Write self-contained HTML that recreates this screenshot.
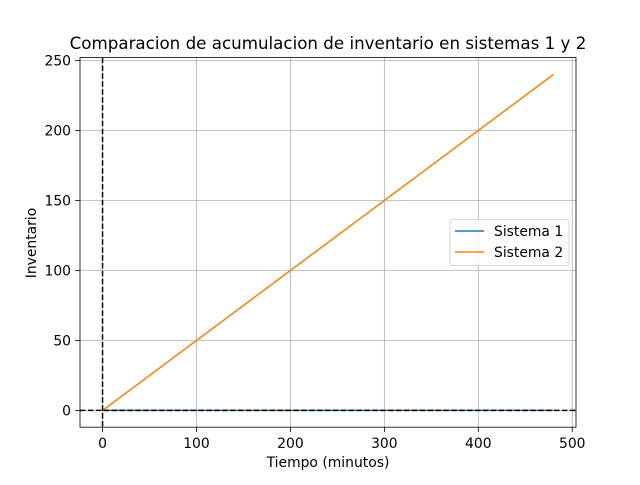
<!DOCTYPE html>
<html><head><meta charset="utf-8"><style>
body{margin:0;background:#fff}
svg text{font-family:"DejaVu Sans","Liberation Sans",sans-serif;fill:#000}
</style></head><body>
<svg id="c" width="640" height="480" xmlns="http://www.w3.org/2000/svg"></svg>
<script>
const xTicks=[0,100,200,300,400,500];
const yTicks=[0,50,100,150,200,250];
const sis1X=[0,480];
const sis1Y=[0,0];
const sis2X=[0,480];
const sis2Y=[0,240];
const L=80,R=576,T=57.6,B=427.2,x0=-24,x1=504,y0=-12,y1=252;
const sx=v=>L+(v-x0)/(x1-x0)*(R-L);
const sy=v=>B-(v-y0)/(y1-y0)*(B-T);
const svg=document.getElementById('c');
const NS='http://www.w3.org/2000/svg';
function mk(t,a,p){const e=document.createElementNS(NS,t);for(const k in a)e.setAttribute(k,a[k]);(p||svg).appendChild(e);return e;}
let e;
e=mk('rect',{x:0,y:0,width:640,height:480,fill:'#fff'});


xTicks.forEach(v=>{
 e=mk('line',{x1:sx(v),x2:sx(v),y1:T,y2:B,stroke:'#b0b0b0','stroke-width':0.8});
 
 
 mk('line',{x1:sx(v),x2:sx(v),y1:B,y2:B+4.9,stroke:'#000','stroke-width':0.8});
 e=mk('text',{x:sx(v),y:B+21,'text-anchor':'middle','font-size':13.9});e.textContent=v;
 
 
});
yTicks.forEach(v=>{
 e=mk('line',{x1:L,x2:R,y1:sy(v),y2:sy(v),stroke:'#b0b0b0','stroke-width':0.8});
 
 
 mk('line',{x1:L-4.9,x2:L,y1:sy(v),y2:sy(v),stroke:'#000','stroke-width':0.8});
 e=mk('text',{x:L-9,y:sy(v)+5,'text-anchor':'end','font-size':13.9});e.textContent=v;
 
 
});
e=mk('polyline',{points:sis1X.map((v,i)=>sx(v)+','+sy(sis1Y[i])).join(' '),fill:'none',stroke:'#1f77b4','stroke-width':1.5});


e=mk('polyline',{points:sis2X.map((v,i)=>sx(v)+','+sy(sis2Y[i])).join(' '),fill:'none',stroke:'#ff7f0e','stroke-width':1.5});


e=mk('line',{x1:L,x2:R,y1:sy(0),y2:sy(0),stroke:'#000','stroke-width':1.5,'stroke-dasharray':'5.5,2.4'});


e=mk('line',{x1:sx(0),x2:sx(0),y1:T,y2:B,stroke:'#000','stroke-width':1.5,'stroke-dasharray':'5.5,2.4'});


e=mk('rect',{x:L,y:T,width:R-L,height:B-T,fill:'none',stroke:'#000','stroke-width':0.8});


e=mk('text',{x:328,y:49,'text-anchor':'middle','font-size':16.7});e.textContent='Comparacion de acumulacion de inventario en sistemas 1 y 2';


e=mk('text',{x:328,y:467,'text-anchor':'middle','font-size':13.9});e.textContent='Tiempo (minutos)';


e=mk('text',{x:36,y:243,'text-anchor':'middle','font-size':13.9,transform:'rotate(-90 36 243)'});e.textContent='Inventario';


const g=mk('g',{});


mk('rect',{x:450,y:219.5,width:119,height:46,rx:2,fill:'#fff','fill-opacity':0.8,stroke:'#ccc','stroke-width':0.8},g);
[['Sistema 1','#1f77b4',231],['Sistema 2','#ff7f0e',252]].forEach(([n,c,y])=>{
 mk('line',{x1:455,x2:484,y1:y,y2:y,stroke:c,'stroke-width':1.5},g);
 const t=mk('text',{x:494,y:y+5,'font-size':13.9},g);t.textContent=n;
 
 
});
</script>
</body></html>
